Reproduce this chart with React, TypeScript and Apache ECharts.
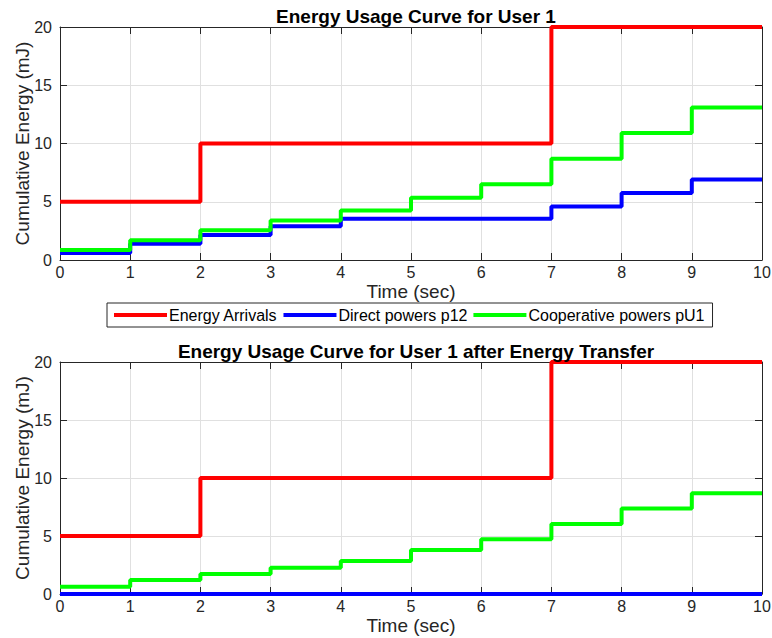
import React, { useEffect, useRef } from "react";
import * as echarts from "echarts";

const timeTicks = [0, 1, 2, 3, 4, 5, 6, 7, 8, 9, 10];
const arrivals = [5, 5, 10, 10, 10, 10, 10, 20, 20, 20, 20];
const directTop = [0.6, 1.4, 2.15, 2.9, 3.55, 3.55, 3.55, 4.6, 5.75, 6.9, 6.9];
const coopTop = [0.85, 1.7, 2.55, 3.4, 4.25, 5.35, 6.5, 8.7, 10.9, 13.1, 13.1];
const directBottom = [0, 0, 0, 0, 0, 0, 0, 0, 0, 0, 0];
const coopBottom = [0.63, 1.2, 1.73, 2.27, 2.85, 3.8, 4.72, 6.04, 7.36, 8.69, 8.69];
const seriesNames = ["Energy Arrivals", "Direct powers p12", "Cooperative powers pU1"];
const colors = ["#ff0000", "#0000ff", "#00ff00"];

const FONT = "Liberation Sans, Arial, Helvetica, sans-serif";
const AX = "#262626";

export default function App() {
  const ref = useRef<HTMLDivElement>(null);
  useEffect(() => {
    if (!ref.current) return;
    const chart = echarts.init(ref.current, null, { renderer: "svg" });
    const grids = [
      { left: 60, top: 27, width: 702, height: 233, outerBoundsMode: "none", containLabel: false },
      { left: 60, top: 362, width: 702, height: 232, outerBoundsMode: "none", containLabel: false },
    ];
    const xAxes: any[] = [];
    const yAxes: any[] = [];
    grids.forEach((g, gi) => {
      xAxes.push({
        type: "value",
        gridIndex: gi,
        min: 0,
        max: 10,
        interval: 1,
        position: "bottom",
        name: "Time (sec)",
        nameLocation: "middle",
        nameGap: 22,
        nameMoveOverlap: false,
        nameTextStyle: { fontFamily: FONT, fontSize: 19, color: AX },
        axisLine: { show: true, onZero: false, lineStyle: { color: AX, width: 1 } },
        axisTick: { show: true, inside: true, length: 7, lineStyle: { color: AX } },
        axisLabel: { fontFamily: FONT, fontSize: 16, color: AX, margin: 4 },
        splitLine: { show: true, lineStyle: { color: "#e0e0e0", width: 1 } },
      });
      xAxes.push({
        type: "value",
        gridIndex: gi,
        min: 0,
        max: 10,
        interval: 1,
        position: "top",
        axisLine: { show: true, onZero: false, lineStyle: { color: AX, width: 1 } },
        axisTick: { show: true, inside: true, length: 7, lineStyle: { color: AX } },
        axisLabel: { show: false },
        splitLine: { show: false },
      });
      yAxes.push({
        type: "value",
        gridIndex: gi,
        min: 0,
        max: 20,
        interval: 5,
        position: "left",
        name: "Cumulative Energy (mJ)",
        nameLocation: "middle",
        nameGap: 28,
        nameMoveOverlap: false,
        nameTextStyle: { fontFamily: FONT, fontSize: 19, color: AX },
        axisLine: { show: true, onZero: false, lineStyle: { color: AX, width: 1 } },
        axisTick: { show: true, inside: true, length: 7, lineStyle: { color: AX } },
        axisLabel: { fontFamily: FONT, fontSize: 16, color: AX, margin: 8 },
        splitLine: { show: true, lineStyle: { color: "#e0e0e0", width: 1 } },
      });
      yAxes.push({
        type: "value",
        gridIndex: gi,
        min: 0,
        max: 20,
        interval: 5,
        position: "right",
        axisLine: { show: true, onZero: false, lineStyle: { color: AX, width: 1 } },
        axisTick: { show: true, inside: true, length: 7, lineStyle: { color: AX } },
        axisLabel: { show: false },
        splitLine: { show: false },
      });
    });
    const mk = (name: string, color: string, vals: number[], gi: number) => ({
      name,
      type: "line",
      step: "end",
      xAxisIndex: gi * 2,
      yAxisIndex: gi * 2,
      data: timeTicks.map((t, i) => [t, vals[i]]),
      showSymbol: false,
      symbol: "none",
      clip: false,
      lineStyle: { color, width: 4 },
      itemStyle: { color },
    });
    chart.setOption({
      animation: false,
      backgroundColor: "#ffffff",
      title: [
        {
          text: "Energy Usage Curve for User 1",
          left: 411,
          top: 2,
          textAlign: "center",
          textStyle: { fontFamily: FONT, fontSize: 19, fontWeight: "bold", color: "#000" },
        },
        {
          text: "Energy Usage Curve for User 1 after Energy Transfer",
          left: 411,
          top: 337,
          textAlign: "center",
          textStyle: { fontFamily: FONT, fontSize: 19, fontWeight: "bold", color: "#000" },
        },
      ],
      legend: {
        data: seriesNames,
        left: 107,
        top: 303,
        padding: [3, 8, 3, 7],
        itemGap: 6,
        itemWidth: 53,
        itemHeight: 4,
        icon: "rect",
        borderColor: AX,
        borderWidth: 1,
        textStyle: {
          fontFamily: FONT,
          fontSize: 16,
          lineHeight: 18,
          color: "#000",
          padding: [0, 0, 0, -3],
        },
      },
      grid: grids,
      xAxis: xAxes,
      yAxis: yAxes,
      series: [
        mk(seriesNames[0], colors[0], arrivals, 0),
        mk(seriesNames[1], colors[1], directTop, 0),
        mk(seriesNames[2], colors[2], coopTop, 0),
        mk(seriesNames[0], colors[0], arrivals, 1),
        mk(seriesNames[1], colors[1], directBottom, 1),
        mk(seriesNames[2], colors[2], coopBottom, 1),
      ],
    });
    return () => chart.dispose();
  }, []);
  return (
    <div
      ref={ref}
      style={{ position: "fixed", left: 0, top: 0, width: 772, height: 638, background: "#fff" }}
    />
  );
}
